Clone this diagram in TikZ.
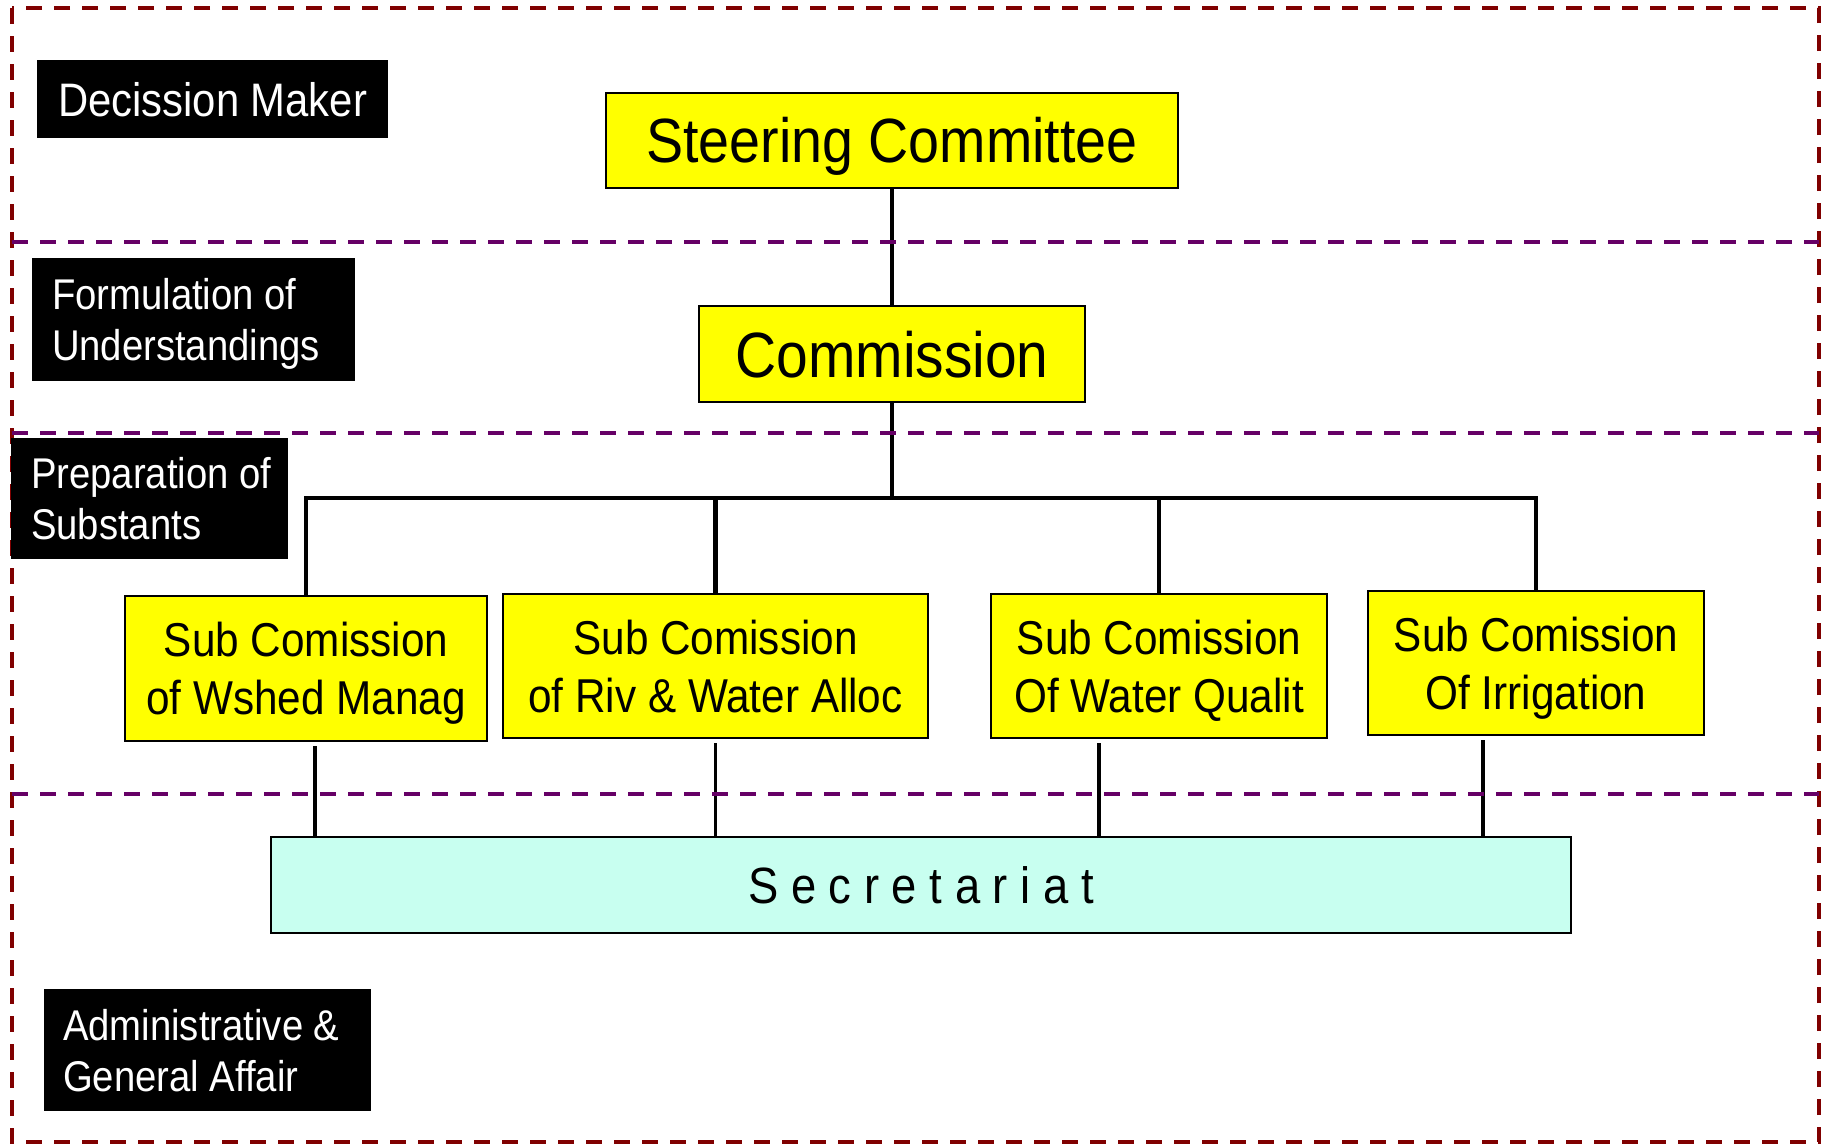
\documentclass[tikz,border=0pt]{standalone}
\usepackage{fontspec}
\setmainfont{Liberation Sans}[FakeStretch=0.89]
\definecolor{frameRed}{HTML}{800000}
\definecolor{bandPurple}{HTML}{660066}
\definecolor{boxYellow}{HTML}{FFFF00}
\definecolor{secMint}{HTML}{C8FFF0}
\begin{document}
\begin{tikzpicture}[x=1pt,y=-1pt,
  outerframe/.style={draw=frameRed, line width=3.5pt, dash pattern=on 16pt off 12pt},
  bandline/.style={draw=bandPurple, line width=4pt, dash pattern=on 16pt off 12pt},
  tagbox/.style={fill=black, inner sep=0pt},
  tagtext/.style={text=white, inner sep=0pt, align=left, anchor=west, text depth=0pt,
    font=\fontsize{43}{51}\selectfont},
  orgbox/.style={draw=black, line width=2pt, fill=boxYellow, inner sep=0pt, align=center,
    text depth=0pt},
  subbox/.style={orgbox, font=\fontsize{47.5}{58}\selectfont},
  secbox/.style={draw=black, line width=2pt, fill=secMint, inner sep=0pt, text depth=0pt,
    font=\fontsize{51}{60}\selectfont},
  conn/.style={draw=black, line width=3.3pt},
  busbar/.style={draw=black, line width=4.5pt}
]
\useasboundingbox (0,0) rectangle (1825,1144);

% dashed outer frame
\draw[outerframe] (12,8) rectangle (1819,1142);

% organisation boxes
\node[orgbox, minimum width=572pt, minimum height=95pt,
      font=\fontsize{62.5}{70}\selectfont] (steer) at (892,140) {Steering Committee};
\node[orgbox, minimum width=386pt, minimum height=96pt,
      font=\fontsize{64}{72}\selectfont] (comm) at (892,354) {Commission};
\node[subbox, minimum width=362pt, minimum height=145pt] (sub1) at (306,668.5)
  {Sub Comission\\of Wshed Manag};
\node[subbox, minimum width=425pt, minimum height=144pt] (sub2) at (715.5,666)
  {Sub Comission\\of Riv \& Water Alloc};
\node[subbox, minimum width=336pt, minimum height=144pt] (sub3) at (1159,666)
  {Sub Comission\\Of Water Qualit};
\node[subbox, minimum width=336pt, minimum height=144pt] (sub4) at (1536,663)
  {Sub Comission\\Of Irrigation};
\node[secbox, minimum width=1300pt, minimum height=96pt] (secr) at (921,885)
  {S e c r e t a r i a t};

% connectors
\coordinate (bus) at (892,498);
\draw[conn] (steer.south) -- (comm.north);
\draw[conn] (comm.south) -- (bus);
\draw[conn] (sub1.north) |- (bus) -| (sub4.north);
\draw[busbar] (sub2.north) |- (bus) -| (sub3.north);
\draw[conn] ([xshift=9pt,yshift=-4pt]sub1.south) coordinate (d1) -- (d1 |- secr.north);
\draw[conn] ([yshift=-4pt]sub2.south) coordinate (d2) -- (d2 |- secr.north);
\draw[conn] ([xshift=-60pt,yshift=-4pt]sub3.south) coordinate (d3) -- (d3 |- secr.north);
\draw[conn] ([xshift=-53pt,yshift=-4pt]sub4.south) coordinate (d4) -- (d4 |- secr.north);

% dashed level separators
\draw[bandline] (12,242) -- (1819,242);
\draw[bandline] (12,433) -- (1819,433);
\draw[bandline] (12,794) -- (1819,794);

% redraw boxes above the separators
\node[orgbox, minimum width=572pt, minimum height=95pt,
      font=\fontsize{62.5}{70}\selectfont] at (steer) {Steering Committee};
\node[orgbox, minimum width=386pt, minimum height=96pt,
      font=\fontsize{64}{72}\selectfont] at (comm) {Commission};

% level tags
\node[tagbox, minimum width=351pt, minimum height=78pt] (tagA) at (212.5,99) {};
\node[tagtext, font=\fontsize{47}{52}\selectfont] (tagAt) at ([xshift=21pt]tagA.west) {Decission Maker};
\node[tagbox, minimum width=323pt, minimum height=123pt] (tagB) at (193.5,319.5) {};
\node[tagtext] (tagBt) at ([xshift=20pt]tagB.west) {Formulation of\\Understandings};
\node[tagbox, minimum width=277pt, minimum height=121pt] (tagC) at (149.5,498.5) {};
\node[tagtext] (tagCt) at ([xshift=20pt]tagC.west) {Preparation of\\Substants};
\node[tagbox, minimum width=327pt, minimum height=122pt] (tagD) at (207.5,1050) {};
\node[tagtext] (tagDt) at ([xshift=19pt]tagD.west) {Administrative \&\\General Affair};
\end{tikzpicture}
\end{document}
